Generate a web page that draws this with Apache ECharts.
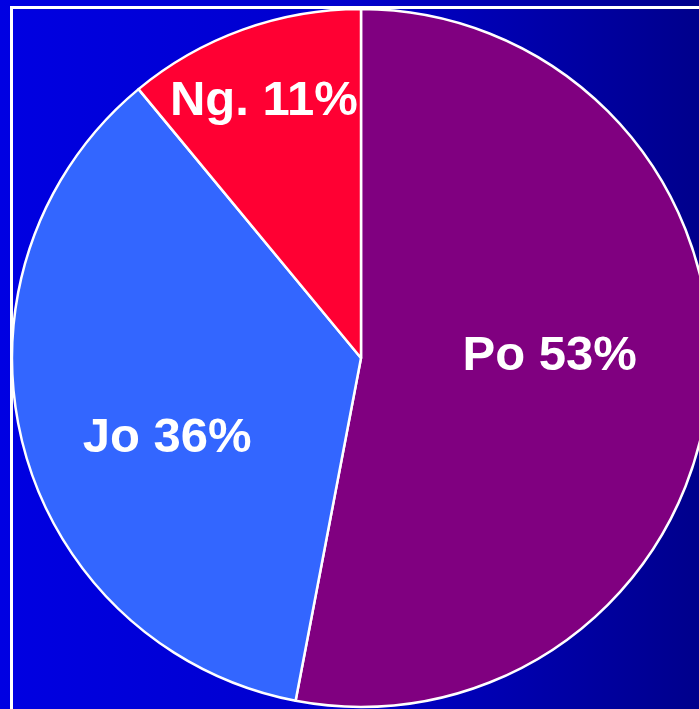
<!DOCTYPE html>
<html>
<head>
<meta charset="utf-8">
<script src="https://cdn.jsdelivr.net/npm/echarts@6/dist/echarts.min.js"></script>
<style>
html,body{margin:0;padding:0;width:699px;height:709px;overflow:hidden;}
#c{width:699px;height:709px;}
</style>
</head>
<body>
<div id="c"></div>
<script>
var categories = ['Po', 'Jo', 'Ng.'];
var values = [53, 36, 11];
var colors = ['#800080', '#3366FF', '#FF0033'];
var labelShift = [[12, -18], [-22, 36], [-37, -90]];

var chart = echarts.init(document.getElementById('c'));
chart.setOption({
  animation: false,
  backgroundColor: {
    type: 'linear', x: 0, y: 0, x2: 1, y2: 0,
    colorStops: [
      {offset: 0, color: '#0000E2'},
      {offset: 0.5, color: '#0000CC'},
      {offset: 1, color: '#00008C'}
    ]
  },
  graphic: [{
    type: 'rect', silent: true, z: 0,
    shape: {x: 11.5, y: 7.5, width: 800, height: 800},
    style: {fill: 'none', stroke: '#FFFFFF', lineWidth: 3}
  }],
  series: [{
    type: 'pie',
    center: [361, 358],
    radius: 349,
    startAngle: 90,
    clockwise: true,
    z: 2,
    data: categories.map(function (c, i) {
      return {name: c, value: values[i], itemStyle: {color: colors[i]}};
    }),
    itemStyle: {borderColor: '#FFFFFF', borderWidth: 2.5},
    label: {
      position: 'inside',
      formatter: function (p) { return p.name + ' ' + p.value + '%'; },
      color: '#FFFFFF',
      fontFamily: 'Liberation Sans, Arial, sans-serif',
      fontWeight: 'bold',
      fontSize: 49
    },
    labelLayout: function (p) {
      return {dx: labelShift[p.dataIndex][0], dy: labelShift[p.dataIndex][1]};
    },
    labelLine: {show: false},
    emphasis: {disabled: true}
  }]
});
</script>
</body>
</html>
